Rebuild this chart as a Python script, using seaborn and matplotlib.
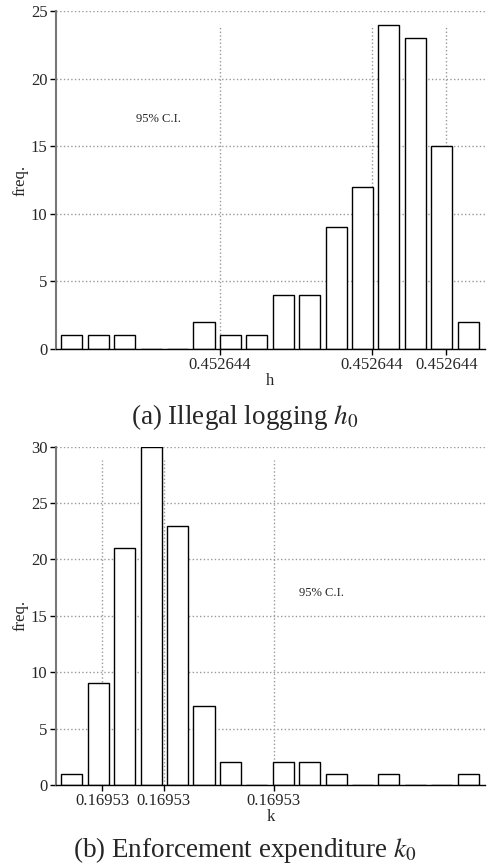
import seaborn as sns
import matplotlib.pyplot as plt
import numpy as np

# histogram counts (16 bins each)
h_counts = [1, 1, 1, 0, 0, 2, 1, 1, 4, 4, 9, 12, 24, 23, 15, 2]
k_counts = [1, 9, 21, 30, 23, 7, 2, 0, 2, 2, 1, 0, 1, 0, 0, 1]

# positions of the marked values (in bin units) and their labels
h_marks = [5.6, 11.36, 14.17]
h_mark_labels = ['0.452644', '0.452644', '0.452644']
k_marks = [1.14, 3.48, 7.64]
k_mark_labels = ['0.16953', '0.16953', '0.16953']

sns.set_style('white')
plt.rcParams['font.family'] = ['Liberation Serif', 'DejaVu Serif']
plt.rcParams['mathtext.fontset'] = 'stix'


def draw_hist(ax, counts, marks, mark_labels, xlabel, ymax, text_x):
    bins = np.arange(len(counts))
    sns.barplot(x=bins, y=counts, ax=ax, color='white', edgecolor='black',
                linewidth=1.0, width=0.8, saturation=1)
    for m in marks:
        ax.axvline(m, ymin=0, ymax=0.96, color='#999999', linestyle=':', linewidth=1.0, zorder=0)
    ax.set_xlim(-0.606, 15.64)
    ax.set_ylim(0, ymax)
    ax.set_yticks(np.arange(0, ymax + 1, 5))
    for y in np.arange(5, ymax + 1, 5):
        ax.axhline(y, color='#999999', linestyle=':', linewidth=1.0, zorder=0)
    ax.set_xticks(marks)
    ax.set_xticklabels(mark_labels)
    ax.tick_params(axis='both', labelsize=12, length=4, width=1, direction='out',
                   bottom=True, left=True, color='black', pad=2)
    ax.set_xlabel(xlabel, fontsize=12, labelpad=0)
    ax.set_ylabel('freq.', fontsize=12, labelpad=2)
    ax.text(text_x, 17, '95% C.I.', fontsize=9, ha='center', va='center')
    sns.despine(ax=ax, top=True, right=True)
    ax.spines['left'].set_color('#777777')
    ax.spines['left'].set_linewidth(1.5)
    ax.spines['bottom'].set_color('black')
    ax.spines['bottom'].set_linewidth(1.0)


fig = plt.figure(figsize=(4.9, 8.67), dpi=100)
ax1 = fig.add_axes([0.114, 0.5975, 0.876, 0.3898])
ax2 = fig.add_axes([0.114, 0.0946, 0.876, 0.3902])

draw_hist(ax1, h_counts, h_marks, h_mark_labels, 'h', 25, 3.26)
draw_hist(ax2, k_counts, k_marks, k_mark_labels, 'k', 30, 9.43)

fig.text(0.5, 0.519, r'(a) Illegal logging $h_0$', fontsize=19.5, ha='center', va='center')
fig.text(0.5, 0.0196, r'(b) Enforcement expenditure $k_0$', fontsize=19.5, ha='center', va='center')

plt.savefig('out.png', dpi=100)
